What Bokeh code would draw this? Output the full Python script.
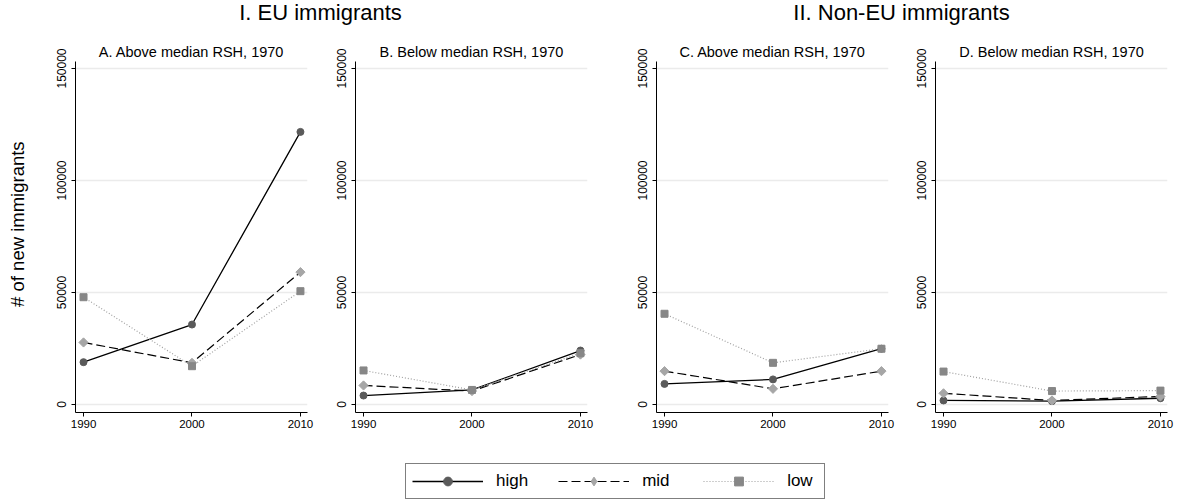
import numpy as np
from bokeh.plotting import figure
from bokeh.models import (Range1d, FixedTicker, NumeralTickFormatter, Legend,
                          LegendItem, ColumnDataSource)
from bokeh.layouts import column, row
from bokeh.core.properties import value
from bokeh.embed import file_html
from bokeh.resources import INLINE

# ---------------- data ----------------
years = [1990, 2000, 2010]
y_ticks = [0, 50000, 100000, 150000]
group_titles = ["I. EU immigrants", "II. Non-EU immigrants"]
panel_titles = ["A. Above median RSH, 1970", "B. Below median RSH, 1970",
                "C. Above median RSH, 1970", "D. Below median RSH, 1970"]
y_label = "# of new immigrants"
series_names = ["high", "mid", "low"]

a_high = [18900, 35700, 121700]
a_mid = [27700, 18600, 59100]
a_low = [47900, 17100, 50600]

b_high = [4000, 6500, 24100]
b_mid = [8500, 6000, 22300]
b_low = [15200, 6500, 22900]

c_high = [9200, 11200, 24900]
c_mid = [14900, 7000, 14900]
c_low = [40500, 18600, 24900]

d_high = [1800, 1500, 2800]
d_mid = [5000, 1800, 3600]
d_low = [14700, 6000, 6200]

FONT = "Liberation Sans"
STY = {
    "high": dict(line_color="black", line_dash="solid", line_width=1.3,
                 marker="circle", leg_marker="circle", mcolor="#5a5a5a",
                 size=7, angle=0.0),
    "mid": dict(line_color="black", line_dash="9 4", line_width=1.2,
                marker="square", leg_marker="diamond", mcolor="#a6a6a6",
                size=6.5, angle=np.pi / 4),
    "low": dict(line_color="#a0a0a0", line_dash="1 2", line_width=1.2,
                marker="square", leg_marker="square", mcolor="#878787",
                size=7, angle=0.0),
}

FRAME_W = 232
PANEL_H = 404


def panel(title, high, mid, low, bl, br, ylabel=None):
    p = figure(width=bl + FRAME_W + br, height=PANEL_H,
               min_border_left=bl, min_border_right=br,
               min_border_top=25, min_border_bottom=28,
               x_range=Range1d(1989.26, 2010.65),
               y_range=Range1d(-3571, 153125),
               output_backend="svg", toolbar_location=None, title=title)
    p.title.align = "center"
    p.title.text_font = FONT
    p.title.text_font_size = "14.5px"
    p.title.text_font_style = "normal"
    p.title.text_color = "black"
    p.title.standoff = 4
    p.outline_line_color = None
    p.background_fill_color = "white"
    p.border_fill_color = "white"

    p.xgrid.grid_line_color = None
    p.ygrid.grid_line_color = "#ebebeb"
    p.ygrid.grid_line_width = 1.5

    p.xaxis.ticker = FixedTicker(ticks=years)
    p.yaxis.ticker = FixedTicker(ticks=y_ticks)
    p.yaxis.formatter = NumeralTickFormatter(format="0")
    p.yaxis.major_label_orientation = "vertical"
    for ax in p.axis:
        ax.axis_line_color = "black"
        ax.axis_line_width = 1
        ax.major_tick_line_color = "black"
        ax.major_tick_out = 4
        ax.major_tick_in = 0
        ax.minor_tick_line_color = None
        ax.major_label_text_font = FONT
        ax.major_label_text_color = "black"
    p.xaxis.major_label_text_font_size = "11.5px"
    p.yaxis.major_label_text_font_size = "12px"
    p.xaxis.major_label_standoff = 3
    p.yaxis.major_label_standoff = 5
    if ylabel:
        # leading no-break spaces nudge the centred label up, as in the original
        p.yaxis.axis_label = "\u00a0" * 5 + ylabel
        p.yaxis.axis_label_text_font = FONT
        p.yaxis.axis_label_text_font_size = "18.5px"
        p.yaxis.axis_label_text_font_style = "normal"
        p.yaxis.axis_label_text_color = "black"
        p.yaxis.axis_label_standoff = 27

    for name, vals in zip(series_names, [high, mid, low]):
        s = STY[name]
        p.line(years, vals, line_color=s["line_color"], line_dash=s["line_dash"],
               line_width=s["line_width"])
        p.scatter(years, vals, marker=s["marker"], size=s["size"], angle=s["angle"],
                  fill_color=s["mcolor"], line_color=s["mcolor"])
    return p


pa = panel(panel_titles[0], a_high, a_mid, a_low, 75, 20, y_label)
pb = panel(panel_titles[1], b_high, b_mid, b_low, 28, 41)
pc = panel(panel_titles[2], c_high, c_mid, c_low, 28, 17)
pd_ = panel(panel_titles[3], d_high, d_mid, d_low, 30, 8)

TOTAL_W = pa.width + pb.width + pc.width + pd_.width
TITLE_H = 36
LEG_H = 60

# ---------------- group titles ----------------
tf = figure(width=TOTAL_W, height=TITLE_H, x_range=Range1d(0, TOTAL_W),
            y_range=Range1d(0, TITLE_H),
            x_axis_type=None, y_axis_type=None, min_border=0,
            output_backend="svg", toolbar_location=None)
tf.outline_line_color = None
tf.text(x=[320, 901], y=[23.7, 23.7], text=group_titles, text_align="center",
        text_baseline="alphabetic", text_font=value(FONT), text_font_size="22px",
        text_color="black")

# ---------------- legend ----------------
lf = figure(width=TOTAL_W, height=LEG_H, x_range=Range1d(0, 1), y_range=Range1d(0, 1),
            x_axis_type=None, y_axis_type=None, min_border=0,
            output_backend="svg", toolbar_location=None)
lf.outline_line_color = None
items = []
for name in series_names:
    s = STY[name]
    # placeholder data outside the visible range: only the legend shows these
    src = ColumnDataSource(dict(x=[-10.0, -9.0], y=[-10.0, -10.0]))
    rl = lf.line("x", "y", source=src, line_color=s["line_color"],
                 line_dash=s["line_dash"], line_width=s["line_width"])
    rs = lf.scatter("x", "y", source=src, marker=s["leg_marker"], size=s["size"],
                    fill_color=s["mcolor"], line_color=s["mcolor"])
    items.append(LegendItem(label=name, renderers=[rl, rs]))
legend = Legend(items=items, orientation="horizontal", location=(405, 1),
                padding=6, spacing=30, glyph_width=71, glyph_height=22,
                label_width=31, label_standoff=13, label_text_font=FONT,
                label_text_font_size="17px", label_text_color="black",
                border_line_color="black", border_line_width=1, margin=0,
                background_fill_color="white")
lf.add_layout(legend)

layout = column(tf, row(pa, pb, pc, pd_), lf)
open("out.html", "w").write(file_html(layout, INLINE))
